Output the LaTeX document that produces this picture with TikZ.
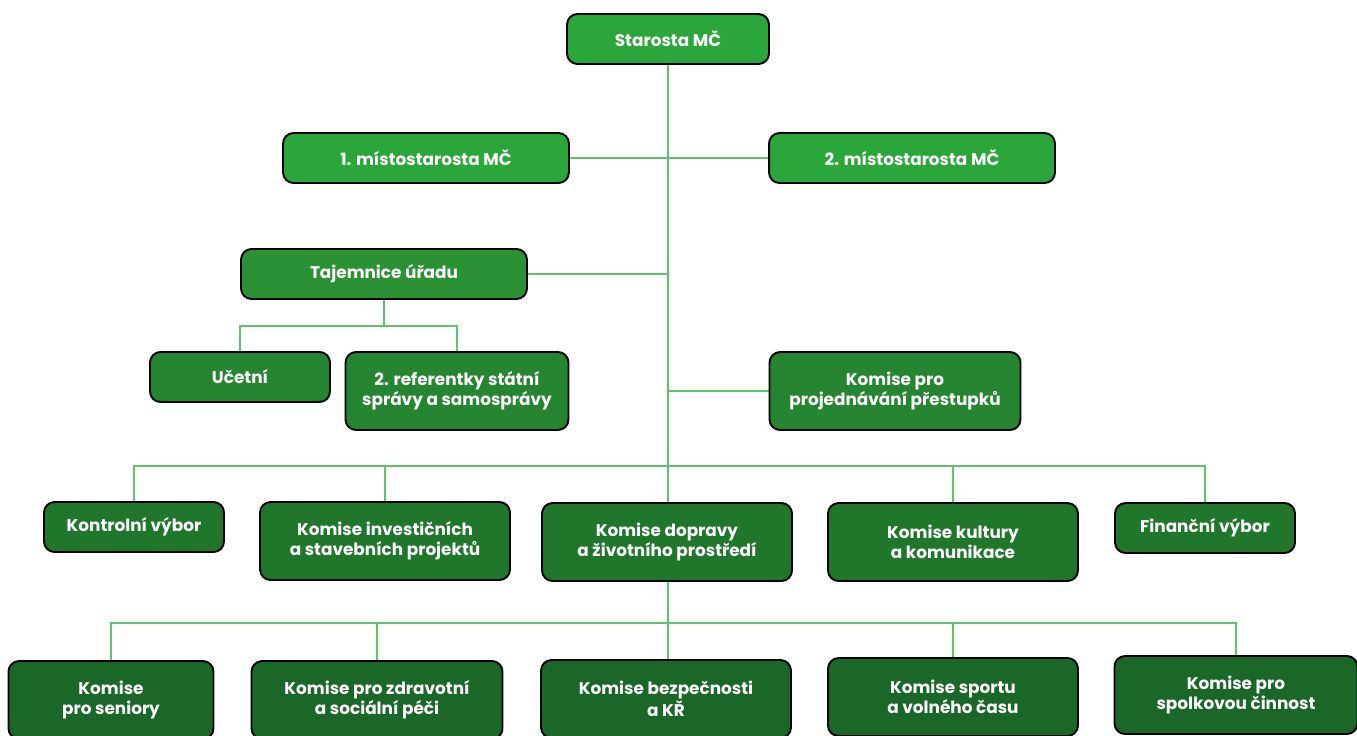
\documentclass[tikz,border=0pt]{standalone}
\usepackage{fontspec}
\setmainfont{Poppins}
\usetikzlibrary{backgrounds}

\definecolor{topgreen}{HTML}{2BA63B}
\definecolor{secgreen}{HTML}{2A9135}
\definecolor{midgreen}{HTML}{268530}
\definecolor{komgreen}{HTML}{20772C}
\definecolor{lowgreen}{HTML}{1B6727}
\definecolor{linkgreen}{HTML}{5DC46B}

\tikzset{
    box/.style={draw=black, line width=1.1pt, rounded corners=6pt, text=white,
        font=\fontsize{9.6}{11.4}\selectfont\bfseries, align=center, inner sep=0pt,
        minimum height=1cm},
    tallbox/.style={box, minimum height=1.56cm},
    link/.style={draw=linkgreen, line width=0.8pt}
}

\begin{document}
\begin{tikzpicture}[x=0.02cm, y=-0.02cm]
    \useasboundingbox (0,0) rectangle (1357,735);

    % vedeni
    \node[box, fill=topgreen, minimum width=4.04cm] (starosta) at (668,39) {Starosta MČ};
    \node[box, fill=topgreen, minimum width=5.72cm] (misto1) at (426,158) {1. místostarosta MČ};
    \node[box, fill=topgreen, minimum width=5.72cm] (misto2) at (912,158) {2. místostarosta MČ};

    % urad
    \node[box, fill=secgreen, minimum width=5.72cm] (tajemnice) at (384,274) {Tajemnice úřadu};
    \node[box, fill=midgreen, minimum width=3.6cm] (ucetni) at (240,377) {Učetní};
    \node[tallbox, fill=midgreen, minimum width=4.46cm] (referentky) at (457,391) {2. referentky státní\\správy a samosprávy};
    \node[tallbox, fill=midgreen, minimum width=5.02cm] (prestupky) at (895,391) {Komise pro\\projednávání přestupků};

    % vybory a komise
    \node[box, fill=komgreen, minimum width=3.6cm] (kontrolni) at (134,527) {Kontrolní výbor};
    \node[tallbox, fill=komgreen, minimum width=5cm] (investicni) at (385,541) {Komise investičních\\a stavebních projektů};
    \node[tallbox, fill=komgreen, minimum width=5cm] (doprava) at (667,542) {Komise dopravy\\a životního prostředí};
    \node[tallbox, fill=komgreen, minimum width=5cm] (kultura) at (953,542) {Komise kultury\\a komunikace};
    \node[box, fill=komgreen, minimum width=3.6cm] (financni) at (1205,528) {Finanční výbor};

    \node[tallbox, fill=lowgreen, minimum width=4.1cm] (seniory) at (111,700) {Komise\\pro seniory};
    \node[tallbox, fill=lowgreen, minimum width=5.02cm] (zdravotni) at (377,700) {Komise pro zdravotní\\a sociální péči};
    \node[tallbox, fill=lowgreen, minimum width=5cm] (bezpecnost) at (666,699) {Komise bezpečnosti\\a KŘ};
    \node[tallbox, fill=lowgreen, minimum width=5cm] (sport) at (953,697) {Komise sportu\\a volného času};
    \node[tallbox, fill=lowgreen, minimum width=4.86cm] (spolky) at (1236,695) {Komise pro\\spolkovou činnost};

    % spojnice
    \begin{scope}[on background layer]
        \draw[link] (starosta.south) -- (bezpecnost.north -| starosta.south);
        \draw[link] (misto1.east) -- (misto2.west);
        \draw[link] (tajemnice.east) -- (tajemnice.east -| starosta.south);
        \draw[link] (prestupky.west) -- (prestupky.west -| starosta.south);

        \coordinate (tsplit) at (384,326);
        \draw[link] (tajemnice.south) -- (tsplit);
        \draw[link] (tsplit) -| (ucetni.north);
        \draw[link] (tsplit) -| (referentky.north);

        \coordinate (bus1) at (668,466);
        \foreach \n in {kontrolni, investicni, kultura, financni}
            \draw[link] (bus1) -| (\n.north);

        \coordinate (bus2) at (668,623);
        \foreach \n in {seniory, zdravotni, sport, spolky}
            \draw[link] (bus2) -| (\n.north);
    \end{scope}
\end{tikzpicture}
\end{document}
